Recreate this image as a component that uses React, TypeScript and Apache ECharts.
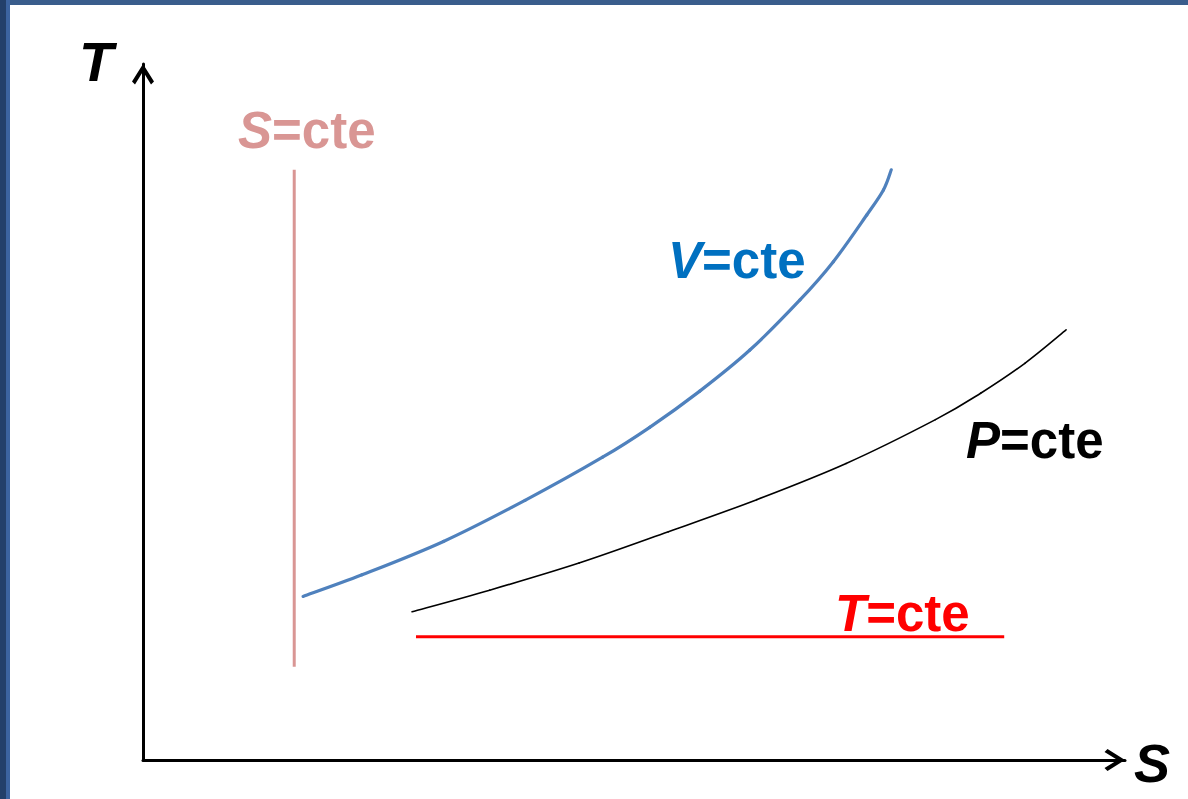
import React, { useEffect, useRef } from "react";
import * as echarts from "echarts";

// Qualitative T–S diagram (arbitrary units, 0..100 on both axes)
const vCurve: [number, number][] = [
  [16.3, 23.5], [22.3, 26.6], [30.6, 31.4], [38.9, 37.3], [46.8, 43.5],
  [51.6, 47.8], [56.7, 53.0], [61.8, 58.9], [66.9, 66.1], [70.3, 71.6],
  [73.7, 78.3], [75.4, 81.9], [76.2, 84.8],
];
const pCurve: [number, number][] = [
  [27.4, 21.3], [35.3, 24.4], [44.4, 28.3], [53.5, 32.8], [62.5, 37.4],
  [71.6, 42.6], [80.7, 48.9], [85.3, 52.7], [89.8, 57.0], [94.0, 61.8],
];
const sLine: [number, number][] = [[15.4, 13.4], [15.4, 84.8]];
const tLine: [number, number][] = [[27.8, 17.7], [87.7, 17.7]];

const labels = [
  { sym: "S", rest: "=cte", x: 238, y: 130, color: "#d99694" },
  { sym: "V", rest: "=cte", x: 668, y: 260, color: "#0070c0" },
  { sym: "P", rest: "=cte", x: 966, y: 440, color: "#000000" },
  { sym: "T", rest: "=cte", x: 835, y: 613, color: "#ff0000" },
];
const axisNames = { x: "S", y: "T" };

const ARROW = "path://M11,0 L22,17.5 L19,20.5 L11,7.5 L3,20.5 L0,17.5 Z";
const FONT = "'Liberation Sans', Arial, sans-serif";

// Smooth curve through the data points (Catmull-Rom → cubic Bézier), positioned by the axes
function curveSeries(points: [number, number][], color: string, width: number) {
  return {
    type: "custom",
    data: [[points[0][0], points[0][1]]],
    renderItem: (_params: any, api: any) => {
      const p = points.map((d) => api.coord(d));
      const n = p.length;
      const children: any[] = [];
      for (let i = 0; i < n - 1; i++) {
        const p0 = p[Math.max(0, i - 1)];
        const p1 = p[i];
        const p2 = p[i + 1];
        const p3 = p[Math.min(n - 1, i + 2)];
        children.push({
          type: "bezierCurve",
          shape: {
            x1: p1[0], y1: p1[1],
            cpx1: p1[0] + (p2[0] - p0[0]) / 6, cpy1: p1[1] + (p2[1] - p0[1]) / 6,
            cpx2: p2[0] - (p3[0] - p1[0]) / 6, cpy2: p2[1] - (p3[1] - p1[1]) / 6,
            x2: p2[0], y2: p2[1],
          },
          style: { stroke: color, lineWidth: width, fill: "none", lineCap: "round" },
        });
      }
      return { type: "group", children };
    },
  };
}

export default function App() {
  const ref = useRef<HTMLDivElement>(null);
  useEffect(() => {
    if (!ref.current) return;
    const chart = echarts.init(ref.current, null, { renderer: "svg" });
    const axisLine = {
      show: true,
      lineStyle: { color: "#000", width: 3 },
      symbol: ["none", ARROW],
      symbolSize: [22, 20.5],
      symbolOffset: [0, -10.25],
    };
    chart.setOption({
      animation: false,
      backgroundColor: "#ffffff",
      grid: { left: 143, right: 63, top: 64, bottom: 39 },
      xAxis: {
        type: "value", min: 0, max: 100,
        axisLine, axisTick: { show: false }, axisLabel: { show: false }, splitLine: { show: false },
      },
      yAxis: {
        type: "value", min: 0, max: 100,
        axisLine, axisTick: { show: false }, axisLabel: { show: false }, splitLine: { show: false },
      },
      series: [
        { type: "line", data: sLine, showSymbol: false, lineStyle: { color: "#d99694", width: 3 } },
        { type: "line", data: tLine, showSymbol: false, lineStyle: { color: "#ff0000", width: 3 } },
        curveSeries(pCurve, "#000000", 1.6),
        curveSeries(vCurve, "#4f81bd", 3.2),
      ],
      graphic: [
        { type: "rect", shape: { x: 0, y: 0, width: 1188, height: 5 }, style: { fill: "#3a5d8c" }, z: 100 },
        { type: "rect", shape: { x: 0, y: 0, width: 6, height: 799 }, style: { fill: "#23406a" }, z: 100 },
        { type: "rect", shape: { x: 6, y: 0, width: 4, height: 799 }, style: { fill: "#3c64a0" }, z: 100 },
        ...labels.map((l) => ({
          type: "text",
          x: l.x,
          y: l.y,
          style: {
            text: `{i|${l.sym}}{n|${l.rest}}`,
            verticalAlign: "middle",
            align: "left",
            rich: {
              i: { fontFamily: FONT, fontSize: 51, fontWeight: "bold", fontStyle: "italic", fill: l.color },
              n: { fontFamily: FONT, fontSize: 51, fontWeight: "bold", fill: l.color },
            },
          },
        })),
        {
          type: "text", x: 79, y: 61,
          style: { text: axisNames.y, fontFamily: FONT, fontSize: 56, fontWeight: "bold", fontStyle: "italic", fill: "#000", verticalAlign: "middle" },
        },
        {
          type: "text", x: 1134, y: 763,
          style: { text: axisNames.x, fontFamily: FONT, fontSize: 54, fontWeight: "bold", fontStyle: "italic", fill: "#000", verticalAlign: "middle" },
        },
      ],
    });
    return () => chart.dispose();
  }, []);
  return (
    <div
      ref={ref}
      style={{ position: "fixed", left: 0, top: 0, width: 1188, height: 799, background: "#fff" }}
    />
  );
}
